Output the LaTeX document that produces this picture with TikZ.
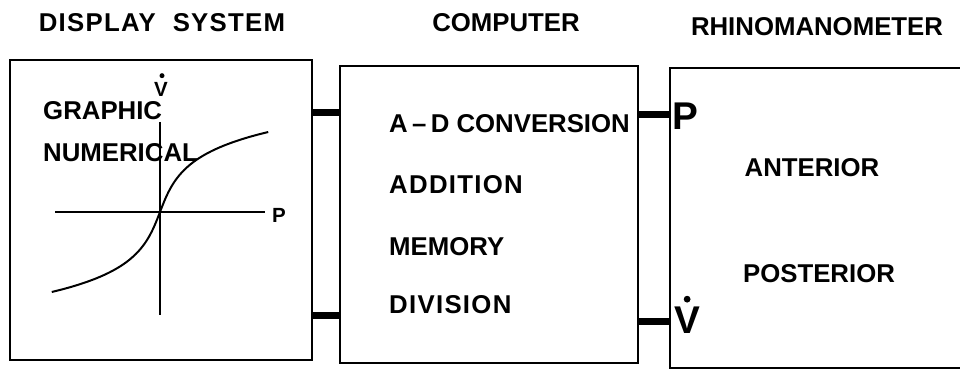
\documentclass[tikz,border=0pt]{standalone}
\usepackage{fontspec}
\setmainfont{Liberation Sans}
\newfontfamily\spacedfont[LetterSpace=5]{Liberation Sans}
\usetikzlibrary{positioning}
\tikzset{
  panel/.style={rectangle, draw, line width=2pt, inner sep=0pt},
  title/.style={font=\bfseries\fontsize{22}{26}\selectfont, inner sep=0pt, anchor=base},
  item/.style={font=\bfseries\fontsize{22}{26}\selectfont, inner sep=0pt,
               anchor=base west},
  spaced/.style={font=\spacedfont\bfseries\fontsize{22}{26}\selectfont},
  signal/.style={font=\bfseries\fontsize{33}{36}\selectfont, inner sep=0pt,
                 anchor=base west},
  axislabel/.style={font=\bfseries\fontsize{17.5}{20}\selectfont, inner sep=0pt,
                    anchor=base},
  link/.style={line width=0.21cm},
  axisline/.style={line width=1pt},
  curveline/.style={line width=1.7pt},
}
\begin{document}
\begin{tikzpicture}[x=0.03cm, y=-0.03cm]
  \useasboundingbox[fill=white] (0,0) rectangle (960,371);

  % --- the three units ---
  \node[panel, minimum width=9.06cm, minimum height=9cm] (disp) at (161,210) {};
  \node[panel, minimum width=8.94cm, minimum height=8.91cm] (comp) at (489,214.5) {};
  \node[panel, minimum width=9.3cm, minimum height=9cm] (rhino) at (825,218) {};

  \node[title, spaced] (disptitle) at (162,32) {DISPLAY\ \ SYSTEM};
  \node[title] (comptitle) at (506,32) {COMPUTER};
  \node[title] (rhinotitle) at (817,36) {RHINOMANOMETER};

  % --- display: flow/pressure curve ---
  \draw[axisline] (160,122) -- (160,315);
  \draw[axisline] (55,212) -- (265,212);
  \draw[curveline] plot[domain=-80:80, samples=60, smooth, variable=\t]
    ({160+10*sinh(\t/26)}, {212-\t});
  \node[axislabel] (vdot) at (161,97) {V};
  \fill (vdot.north) ++(1,-7) circle (2.5);
  \node[axislabel] (pres) at (279,222) {P};

  \node[item] (graphic) at (43,120) {GRAPHIC};
  \node[item, below=1.23cm of graphic.base west, anchor=base west] (numerical) {NUMERICAL};

  % --- computer ---
  \node[item] (adconv) at (389,133) {A\,\textendash\,D CONVERSION};
  \node[item, spaced, below=1.8cm of adconv.base west, anchor=base west] (addition) {ADDITION};
  \node[item, below=1.86cm of addition.base west, anchor=base west] (memory) {MEMORY};
  \node[item, spaced, below=1.74cm of memory.base west, anchor=base west] (division) {DIVISION};

  % --- rhinomanometer ---
  \node[signal] (psig) at (672,130) {P};
  \node[signal] (vsig) at (674,333) {V};
  \fill (vsig.north) ++(0,-7) circle (3.4);
  \node[item, anchor=base] (anterior) at (812,177) {ANTERIOR};
  \node[item, anchor=base] (posterior) at (819,282) {POSTERIOR};

  % --- cables ---
  \draw[link] (disp.east |- 0,113) -- (comp.west |- 0,113);
  \draw[link] (disp.east |- 0,315) -- (comp.west |- 0,315);
  \draw[link] (comp.east |- 0,115) -- (rhino.west |- 0,115);
  \draw[link] (comp.east |- 0,321) -- (rhino.west |- 0,321);
\end{tikzpicture}
\end{document}
